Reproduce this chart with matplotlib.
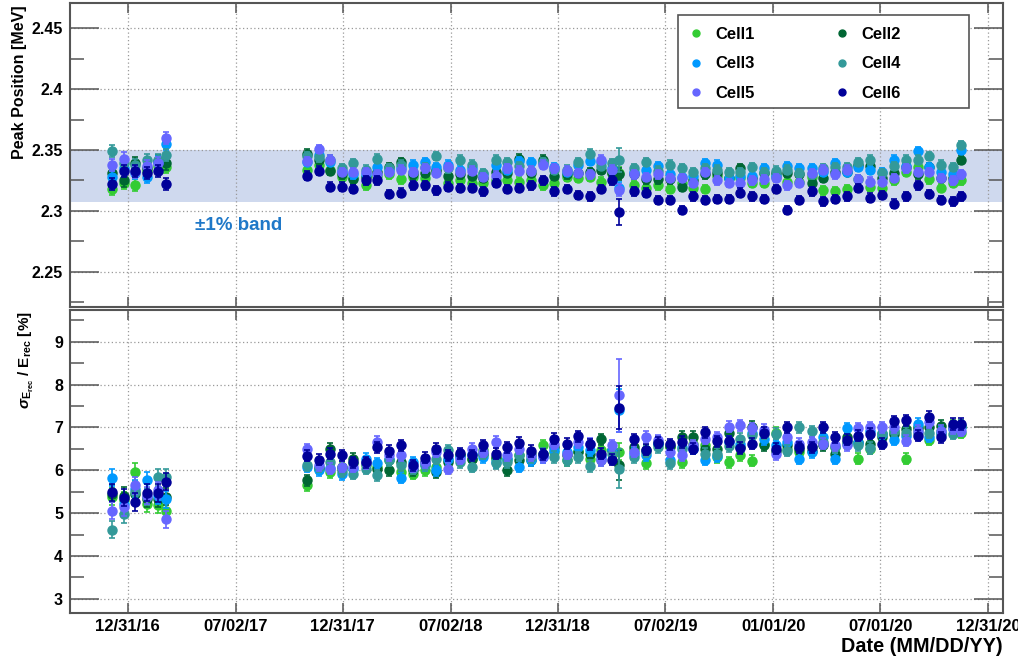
import numpy as np
import matplotlib
matplotlib.use("Agg")
import matplotlib.pyplot as plt
from matplotlib.lines import Line2D
from matplotlib.patches import Rectangle
import matplotlib.dates as mdates

plt.rcParams['font.family'] = ['Liberation Sans', 'DejaVu Sans']
plt.rcParams['font.weight'] = 'bold'
plt.rcParams['mathtext.fontset'] = 'custom'
plt.rcParams['mathtext.rm'] = 'Liberation Sans:bold'
plt.rcParams['mathtext.bf'] = 'Liberation Sans:bold'
plt.rcParams['mathtext.it'] = 'Liberation Sans:bold:italic'

# ---------------- data ----------------
cells = ['Cell1', 'Cell2', 'Cell3', 'Cell4', 'Cell5', 'Cell6']
cell_colors = ['#33cc33', '#006633', '#0099ff', '#339999', '#6666ff', '#000099']

# measurement dates, days after 2016-12-31
days_after_20161231 = [
    -27, -7, 12, 32, 52, 65,
    304, 324, 343, 363, 383, 404, 424, 444, 464, 484,
    504, 523, 544, 564, 584, 604, 625, 644, 664, 685,
    705, 724, 745, 765, 785, 803, 823, 834, 860, 880,
    900, 921, 941, 960, 980, 1000, 1020, 1040, 1060, 1081,
    1101, 1120, 1140, 1161, 1181, 1201, 1221, 1240, 1261, 1281,
    1301, 1321, 1341, 1361, 1381, 1401, 1414,
]

peak_cell1 = [2.318, 2.323, 2.321, 2.333, 2.337, 2.336,
              2.334, 2.338, 2.334, 2.328, 2.327, 2.321, 2.329, 2.330, 2.326, 2.328,
              2.327, 2.332, 2.323, 2.325, 2.323, 2.323, 2.325, 2.325, 2.324, 2.325,
              2.321, 2.323, 2.328, 2.327, 2.328, 2.324, 2.331, 2.331, 2.321, 2.319,
              2.321, 2.318, 2.323, 2.319, 2.318, 2.329, 2.327, 2.327, 2.323, 2.323,
              2.328, 2.324, 2.324, 2.328, 2.317, 2.316, 2.318, 2.326, 2.320, 2.319,
              2.325, 2.332, 2.336, 2.326, 2.319, 2.323, 2.325]
peak_cell2 = [2.331, 2.325, 2.339, 2.335, 2.341, 2.339,
              2.347, 2.342, 2.333, 2.330, 2.326, 2.328, 2.332, 2.336, 2.340, 2.330,
              2.331, 2.334, 2.329, 2.330, 2.329, 2.327, 2.332, 2.331, 2.343, 2.331,
              2.342, 2.329, 2.330, 2.331, 2.332, 2.334, 2.331, 2.330, 2.330, 2.326,
              2.326, 2.326, 2.320, 2.325, 2.330, 2.331, 2.327, 2.335, 2.327, 2.331,
              2.331, 2.331, 2.330, 2.323, 2.327, 2.332, 2.332, 2.338, 2.337, 2.327,
              2.331, 2.336, 2.330, 2.336, 2.327, 2.327, 2.342]
peak_cell3 = [2.328, 2.335, 2.331, 2.328, 2.340, 2.355,
              2.340, 2.346, 2.340, 2.333, 2.330, 2.330, 2.336, 2.334, 2.335, 2.338,
              2.340, 2.336, 2.338, 2.334, 2.335, 2.330, 2.338, 2.334, 2.341, 2.340,
              2.339, 2.336, 2.332, 2.338, 2.341, 2.340, 2.335, 2.319, 2.332, 2.334,
              2.337, 2.330, 2.328, 2.329, 2.339, 2.338, 2.327, 2.329, 2.329, 2.335,
              2.329, 2.337, 2.335, 2.335, 2.332, 2.339, 2.332, 2.336, 2.334, 2.332,
              2.342, 2.337, 2.349, 2.336, 2.332, 2.330, 2.350]
peak_cell4 = [2.349, 2.339, 2.338, 2.342, 2.342, 2.346,
              2.345, 2.344, 2.342, 2.335, 2.339, 2.334, 2.343, 2.335, 2.338, 2.332,
              2.336, 2.345, 2.335, 2.342, 2.338, 2.331, 2.342, 2.340, 2.337, 2.333,
              2.340, 2.334, 2.334, 2.340, 2.347, 2.337, 2.339, 2.342, 2.335, 2.340,
              2.333, 2.338, 2.335, 2.332, 2.335, 2.334, 2.332, 2.332, 2.336, 2.332,
              2.333, 2.334, 2.331, 2.330, 2.335, 2.336, 2.336, 2.340, 2.342, 2.331,
              2.337, 2.342, 2.342, 2.345, 2.338, 2.336, 2.354]
peak_cell5 = [2.338, 2.343, 2.332, 2.337, 2.339, 2.360,
              2.341, 2.351, 2.342, 2.332, 2.332, 2.332, 2.330, 2.332, 2.334, 2.332,
              2.335, 2.331, 2.336, 2.332, 2.333, 2.328, 2.329, 2.335, 2.333, 2.333,
              2.338, 2.335, 2.333, 2.331, 2.330, 2.342, 2.334, 2.317, 2.330, 2.328,
              2.330, 2.327, 2.327, 2.323, 2.332, 2.325, 2.323, 2.323, 2.325, 2.326,
              2.327, 2.321, 2.323, 2.331, 2.334, 2.330, 2.334, 2.326, 2.324, 2.324,
              2.327, 2.335, 2.332, 2.332, 2.327, 2.325, 2.330]
peak_cell6 = [2.322, 2.333, 2.333, 2.331, 2.333, 2.322,
              2.329, 2.333, 2.320, 2.320, 2.318, 2.325, 2.325, 2.314, 2.315, 2.321,
              2.321, 2.317, 2.320, 2.319, 2.319, 2.316, 2.323, 2.318, 2.319, 2.321,
              2.325, 2.316, 2.318, 2.313, 2.312, 2.318, 2.325, 2.299, 2.316, 2.315,
              2.309, 2.309, 2.301, 2.312, 2.309, 2.310, 2.310, 2.315, 2.312, 2.310,
              2.318, 2.301, 2.309, 2.316, 2.308, 2.310, 2.312, 2.319, 2.311, 2.313,
              2.306, 2.312, 2.321, 2.314, 2.309, 2.308, 2.312]

res_cell1 = [5.38, 5.30, 5.96, 5.22, 5.20, 5.05,
             5.65, 6.04, 5.96, 6.06, 6.16, 6.12, 6.08, 6.23, 5.96, 5.92,
             6.00, 6.08, 6.23, 6.35, 6.27, 6.47, 6.27, 6.27, 6.35, 6.39,
             6.58, 6.43, 6.23, 6.45, 6.27, 6.48, 6.47, 6.43, 6.47, 6.17,
             6.62, 6.54, 6.19, 6.62, 6.58, 6.30, 6.19, 6.35, 6.22, 6.62,
             6.88, 6.50, 6.43, 6.54, 6.62, 6.54, 6.62, 6.27, 6.50, 6.85,
             6.92, 6.27, 6.96, 6.71, 6.92, 7.04, 6.88]
res_cell2 = [5.45, 5.41, 5.45, 5.34, 5.34, 5.38,
             5.77, 6.06, 6.50, 6.08, 6.27, 6.16, 6.04, 6.00, 6.19, 6.00,
             6.19, 5.96, 6.19, 6.35, 6.27, 6.39, 6.31, 6.00, 6.23, 6.23,
             6.39, 6.54, 6.35, 6.43, 6.39, 6.72, 6.47, 6.12, 6.54, 6.47,
             6.66, 6.56, 6.78, 6.78, 6.50, 6.50, 6.86, 6.54, 7.01, 6.58,
             6.46, 6.58, 6.50, 6.46, 6.58, 6.38, 6.77, 6.65, 6.62, 6.77,
             6.85, 6.96, 7.00, 7.00, 7.04, 7.00, 7.04]
res_cell3 = [5.83, 5.22, 5.57, 5.77, 5.41, 5.32,
             6.08, 6.00, 6.06, 5.91, 6.04, 6.27, 6.16, 6.27, 5.83, 6.19,
             6.12, 6.00, 6.27, 6.31, 6.39, 6.31, 6.19, 6.27, 6.08, 6.23,
             6.31, 6.48, 6.43, 6.54, 6.47, 6.31, 6.47, 7.40, 6.39, 6.35,
             6.62, 6.23, 6.54, 6.50, 6.25, 6.33, 6.66, 6.62, 6.86, 6.73,
             6.58, 6.65, 6.27, 6.42, 6.77, 6.27, 6.98, 6.63, 6.92, 6.85,
             6.71, 6.81, 7.08, 6.78, 6.88, 6.96, 7.00]
res_cell4 = [4.61, 4.97, 5.49, 5.38, 5.84, 5.84,
             6.12, 6.08, 6.19, 5.98, 5.92, 6.04, 5.88, 6.23, 6.12, 6.04,
             6.12, 6.27, 6.47, 6.19, 6.08, 6.39, 6.16, 6.19, 6.35, 6.31,
             6.39, 6.31, 6.23, 6.30, 6.10, 6.23, 6.39, 6.04, 6.31, 6.43,
             6.54, 6.17, 6.50, 6.54, 6.39, 6.39, 6.56, 6.74, 6.82, 6.85,
             6.85, 6.46, 7.00, 6.91, 6.65, 6.54, 6.65, 6.58, 6.52, 6.88,
             6.92, 6.88, 6.88, 6.88, 6.85, 6.85, 7.04]
res_cell5 = [5.06, 5.14, 5.65, 5.41, 5.53, 4.86,
             6.49, 6.12, 6.04, 6.08, 6.08, 6.16, 6.66, 6.35, 6.35, 6.08,
             6.19, 6.43, 6.04, 6.27, 6.50, 6.43, 6.66, 6.35, 6.50, 6.35,
             6.31, 6.62, 6.39, 6.66, 6.62, 6.23, 6.58, 7.75, 6.43, 6.78,
             6.70, 6.43, 6.35, 6.58, 6.74, 6.77, 7.02, 7.05, 6.98, 6.94,
             6.38, 6.77, 6.62, 6.65, 6.62, 6.58, 6.58, 6.98, 7.00, 7.00,
             7.00, 6.69, 6.92, 7.12, 6.92, 6.98, 6.92]
res_cell6 = [5.49, 5.36, 5.26, 5.48, 5.47, 5.73,
             6.34, 6.25, 6.39, 6.35, 6.19, 6.19, 6.54, 6.45, 6.58, 6.12,
             6.29, 6.50, 6.35, 6.40, 6.35, 6.58, 6.39, 6.54, 6.64, 6.45,
             6.37, 6.74, 6.62, 6.79, 6.61, 6.39, 6.25, 7.46, 6.72, 6.48,
             6.64, 6.61, 6.66, 6.50, 6.89, 6.68, 6.68, 6.52, 6.62, 6.88,
             6.50, 7.00, 6.54, 6.54, 7.00, 6.77, 6.71, 6.81, 6.85, 6.62,
             7.14, 7.17, 6.81, 7.25, 6.77, 7.08, 7.08]

# typical error bars (2016-17 run, 2017-20 run)
peak_err_run1, peak_err_run2 = 0.005, 0.0035
res_err_run1, res_err_run2 = 0.20, 0.13
n_run1 = 6
# larger errors on the 2019 outlier measurement (date index 33)
outlier_date_index = 33
peak_err_outlier = [0.005, 0.005, 0.005, 0.010, 0.005, 0.0105]
res_err_outlier = [0.20, 0.35, 0.50, 0.45, 0.85, 0.50]

band_low, band_high = 2.307, 2.350

tick_dates = ['2016-12-31', '2017-07-02', '2017-12-31', '2018-07-02', '2018-12-31',
              '2019-07-02', '2020-01-01', '2020-07-01', '2020-12-31']
x_start, x_end = '2016-09-24', '2021-01-25'

peaks = [peak_cell1, peak_cell2, peak_cell3, peak_cell4, peak_cell5, peak_cell6]
resos = [res_cell1, res_cell2, res_cell3, res_cell4, res_cell5, res_cell6]

# ---------------- figure ----------------
W, H = 1018, 662
fig = plt.figure(figsize=(W / 100, H / 100), dpi=100)
left = 70 / W
width = (1003 - 70) / W
ax1 = fig.add_axes([left, 1 - 307 / H, width, (307 - 3) / H])
ax2 = fig.add_axes([left, 1 - 613 / H, width, (613 - 310) / H])

dates = np.datetime64('2016-12-31') + np.array(days_after_20161231).astype('timedelta64[D]')
n = len(dates)

def errs(run1, run2, outlier_val):
    e = np.array([run1] * n_run1 + [run2] * (n - n_run1), dtype=float)
    e[outlier_date_index] = outlier_val
    return e

frame_col = '#555555'
for ax in (ax1, ax2):
    ax.set_axisbelow(True)
    for sp in ax.spines.values():
        sp.set_color(frame_col)
        sp.set_linewidth(1.5)
    ax.grid(True, which='major', color='#999999', linestyle=(0, (1, 2)), linewidth=0.9)
    ax.set_xlim(np.datetime64(x_start), np.datetime64(x_end))
    ax.set_xticks([np.datetime64(d) for d in tick_dates])
    ax.xaxis.set_major_formatter(mdates.DateFormatter('%m/%d/%y'))
    ax.tick_params(axis='x', which='major', direction='in', length=7, width=1.1,
                   color=frame_col, top=True, bottom=True, labelsize=12, pad=4)
    ax.tick_params(axis='y', which='major', direction='in', length=21, width=1.1,
                   color=frame_col, left=True, right=True, labelsize=11.5, pad=5)
    ax.tick_params(axis='y', which='minor', direction='in', length=10, width=1.1,
                   color=frame_col, left=True, right=True)
    for lbl in ax.get_xticklabels() + ax.get_yticklabels():
        lbl.set_fontweight('bold')

# top panel
ax1.axhspan(band_low, band_high, color='#cfd9ee', zorder=0.2, lw=0)
for i, c in enumerate(cells):
    ax1.errorbar(dates, peaks[i], yerr=errs(peak_err_run1, peak_err_run2, peak_err_outlier[i]),
                 fmt='o', ms=6.5, color=cell_colors[i], ecolor=cell_colors[i],
                 elinewidth=1.2, capsize=2.5, capthick=1.2, zorder=3 + i)
ax1.set_ylim(2.2213, 2.4705)
ax1.set_yticks([2.25, 2.3, 2.35, 2.4, 2.45])
ax1.set_yticklabels(['2.25', '2.3', '2.35', '2.4', '2.45'])
ax1.set_yticks(np.arange(2.225, 2.47, 0.05), minor=True)
ax1.tick_params(axis='x', labelbottom=False)
ax1.set_ylabel('Peak Position [MeV]', fontsize=11.5, fontweight='bold', loc='top')
ax1.yaxis.set_label_coords(-0.046, 0.993)
ax1.text(np.datetime64('2017-04-24'), 2.2877, '±1% band', color='#1f78c8',
         fontsize=13.5, fontweight='bold', ha='left', va='center')

# legend box (fixed size, ROOT style) and entries filled row by row
fig.add_artist(Rectangle((677.7 / W, 1 - 107.7 / H), (969.3 - 677.7) / W, (107.7 - 15) / H,
                         transform=fig.transFigure, facecolor='white', edgecolor='#555555',
                         linewidth=1.2, zorder=20))
leg_order = [0, 2, 4, 1, 3, 5]
handles = [Line2D([], [], marker='o', ls='none', ms=5, color=cell_colors[k]) for k in leg_order]
labels = [cells[k] for k in leg_order]
leg = fig.legend(handles, labels, ncol=2, loc='upper left',
                 bbox_to_anchor=(677.7 / W, 1 - 15 / H),
                 bbox_transform=fig.transFigure, borderaxespad=0,
                 prop={'weight': 'bold', 'size': 12}, handlelength=0.8, handletextpad=0.74,
                 labelspacing=0.89, borderpad=0.7, columnspacing=4.86, frameon=False)
leg.set_zorder(21)

# bottom panel
for i, c in enumerate(cells):
    ax2.errorbar(dates, resos[i], yerr=errs(res_err_run1, res_err_run2, res_err_outlier[i]),
                 fmt='o', ms=6.5, color=cell_colors[i], ecolor=cell_colors[i],
                 elinewidth=1.2, capsize=2.5, capthick=1.2, zorder=3 + i)
ax2.set_ylim(2.67, 9.74)
ax2.set_yticks(range(3, 10))
ax2.set_yticks(np.arange(3.5, 9.75, 1.0), minor=True)
ax2.set_ylabel(r'$\sigma_{\mathrm{E}_{\mathrm{rec}}}$ / E$_{\mathrm{rec}}$ [%]',
               fontsize=11, fontweight='bold', loc='top')
ax2.yaxis.set_label_coords(-0.036, 0.995)
ax2.set_xlabel('Date (MM/DD/YY)', fontsize=14.3, fontweight='bold', loc='right')
ax2.xaxis.set_label_coords(1.0, -0.079)
ax2.xaxis.label.set_va('top')

fig.savefig('out.png', dpi=100)
